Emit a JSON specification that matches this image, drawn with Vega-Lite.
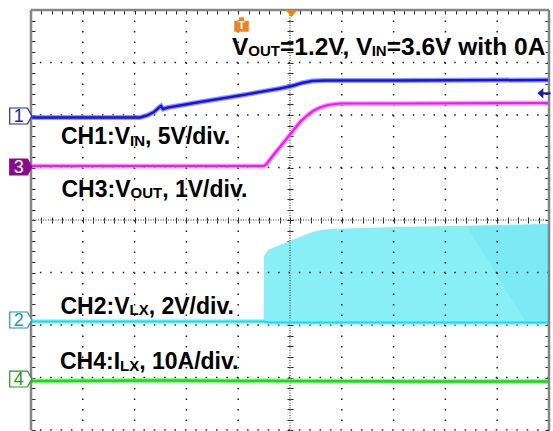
{
  "$schema": "https://vega.github.io/schema/vega-lite/v6.json",
  "width": 518,
  "height": 420,
  "autosize": {"type": "none"},
  "padding": {"left": 31, "top": 10, "right": 4, "bottom": 1},
  "background": "#ffffff",
  "config": {"view": {"stroke": null}, "axis": {"domain": false, "labels": false, "grid": false, "tickColor": "#2a2a2a", "tickWidth": 1, "zindex": 1}},
  "resolve": {"axis": {"x": "independent", "y": "independent"}},
  "datasets": {
    "vgrid": [{"x": 1}, {"x": 2}, {"x": 3}, {"x": 4}, {"x": 6}, {"x": 7}, {"x": 8}, {"x": 9}],
    "hgrid": [{"y": 0}, {"y": 1}, {"y": 2}, {"y": 3}, {"y": 5}, {"y": 6}, {"y": 7}],
    "vcenter": [{"x": 5}],
    "hcenter": [{"y": 4}],
    "vborder": [{"x": 0}, {"x": 10}],
    "hborder": [{"y": 8}],
    "ch1": [
      {"x": 0, "y": 5.952}, {"x": 2.104, "y": 5.952}, {"x": 2.239, "y": 5.99}, {"x": 2.375, "y": 6.057},
      {"x": 2.471, "y": 6.143}, {"x": 2.51, "y": 6.171}, {"x": 2.548, "y": 6.114}, {"x": 2.645, "y": 6.143},
      {"x": 3.263, "y": 6.248}, {"x": 4.035, "y": 6.371}, {"x": 4.807, "y": 6.505}, {"x": 5.039, "y": 6.552},
      {"x": 5.232, "y": 6.61}, {"x": 5.425, "y": 6.648}, {"x": 5.676, "y": 6.657}, {"x": 7.124, "y": 6.657},
      {"x": 10, "y": 6.667}
    ],
    "ch3": [
      {"x": 0, "y": 5.029}, {"x": 4.498, "y": 5.029}, {"x": 4.556, "y": 5.076}, {"x": 4.614, "y": 5.152},
      {"x": 4.71, "y": 5.276}, {"x": 4.807, "y": 5.39}, {"x": 4.923, "y": 5.533}, {"x": 5.039, "y": 5.676},
      {"x": 5.193, "y": 5.867}, {"x": 5.328, "y": 5.99}, {"x": 5.444, "y": 6.076}, {"x": 5.579, "y": 6.143},
      {"x": 5.734, "y": 6.19}, {"x": 5.965, "y": 6.219}, {"x": 7.124, "y": 6.219}, {"x": 10, "y": 6.229}
    ],
    "ch2": [{"x": 0, "y": 2.067}, {"x": 4.49, "y": 2.067}, {"x": 4.6, "y": 2.048}, {"x": 10, "y": 2.048}],
    "ch2burst": [
      {"x": 4.49, "top": 2.067, "bot": 2.029}, {"x": 4.498, "top": 3.314, "bot": 2.029}, {"x": 4.575, "top": 3.429, "bot": 2.029},
      {"x": 4.71, "top": 3.486, "bot": 2.029}, {"x": 4.903, "top": 3.562, "bot": 2.029}, {"x": 5.039, "top": 3.619, "bot": 2.029},
      {"x": 5.193, "top": 3.676, "bot": 2.029}, {"x": 5.386, "top": 3.752, "bot": 2.029}, {"x": 5.541, "top": 3.8, "bot": 2.029},
      {"x": 5.772, "top": 3.829, "bot": 2.029}, {"x": 6.351, "top": 3.848, "bot": 2.029}, {"x": 7.124, "top": 3.867, "bot": 2.029},
      {"x": 8.089, "top": 3.886, "bot": 2.029}, {"x": 9.054, "top": 3.905, "bot": 2.029}, {"x": 10, "top": 3.924, "bot": 2.029}
    ],
    "ch2dark": [
      {"x": 8.411, "top": 3.88, "bot": 3.88}, {"x": 9.569, "top": 3.905, "bot": 2.029}, {"x": 10, "top": 3.924, "bot": 2.029}
    ],
    "ch4": [{"x": 0, "y": 0.933}, {"x": 2.5, "y": 0.943}, {"x": 5, "y": 0.933}, {"x": 7.5, "y": 0.924}, {"x": 10, "y": 0.924}],
    "markers": [
      {"ch": "1", "x": -0.198, "y": 5.981}, {"ch": "2", "x": -0.198, "y": 2.095},
      {"ch": "3", "x": -0.198, "y": 5.01}, {"ch": "4", "x": -0.198, "y": 0.971}
    ],
    "trig": [{"x": 4.064, "y": 7.724}],
    "trigtop": [{"x": 5.03, "y": 7.935}],
    "arrow": [{"x": 9.903, "y": 6.413}],
    "labels": [
      {"t": "CH1:V", "x": 0.579, "y": 5.448}, {"t": ", 5V/div.", "x": 2.201, "y": 5.448},
      {"t": "CH3:V", "x": 0.589, "y": 4.438}, {"t": ", 1V/div.", "x": 2.533, "y": 4.438},
      {"t": "CH2:V", "x": 0.569, "y": 2.219}, {"t": ", 2V/div.", "x": 2.272, "y": 2.219},
      {"t": "CH4:I", "x": 0.56, "y": 1.162}, {"t": ", 10A/div.", "x": 2.089, "y": 1.162}
    ],
    "labelSubs": [
      {"t": "IN", "x": 1.911, "y": 5.419}, {"t": "OUT", "x": 1.921, "y": 4.41},
      {"t": "LX", "x": 1.902, "y": 2.19}, {"t": "LX", "x": 1.718, "y": 1.133}
    ],
    "title": [
      {"t": "V", "x": 3.88, "y": 7.152}, {"t": "=1.2V, V", "x": 4.807, "y": 7.152}, {"t": "=3.6V with 0A", "x": 6.867, "y": 7.152}
    ],
    "titleSubs": [{"t": "OUT", "x": 4.195, "y": 7.124}, {"t": "IN", "x": 6.577, "y": 7.124}]
  },
  "layer": [
    {
      "data": {"name": "ch2burst"},
      "mark": {"type": "area", "color": "#88eff7", "opacity": 1},
      "encoding": {
        "x": {"field": "x", "type": "quantitative", "scale": {"domain": [0, 10], "nice": false, "zero": false},
          "axis": {"orient": "top", "offset": -210, "tickSize": 3, "title": null,
            "values": [0,0.2,0.4,0.6,0.8,1,1.2,1.4,1.6,1.8,2,2.2,2.4,2.6,2.8,3,3.2,3.4,3.6,3.8,4,4.2,4.4,4.6,4.8,5,5.2,5.4,5.6,5.8,6,6.2,6.4,6.6,6.8,7,7.2,7.4,7.6,7.8,8,8.2,8.4,8.6,8.8,9,9.2,9.4,9.6,9.8,10]}},
        "y": {"field": "top", "type": "quantitative", "scale": {"domain": [0, 8], "nice": false, "zero": false}, "axis": null},
        "y2": {"field": "bot"}
      }
    },
    {
      "data": {"name": "ch2dark"},
      "mark": {"type": "area", "color": "#7ceaf4", "opacity": 1},
      "encoding": {
        "x": {"field": "x", "type": "quantitative", "scale": {"domain": [0, 10], "nice": false, "zero": false}, "axis": null},
        "y": {"field": "top", "type": "quantitative", "scale": {"domain": [0, 8], "nice": false, "zero": false}, "axis": null},
        "y2": {"field": "bot"}
      }
    },
    {
      "data": {"name": "vgrid"},
      "mark": {"type": "rule", "color": "#1e1e1e", "strokeWidth": 1.5, "strokeDash": [1.5, 9]},
      "encoding": {
        "x": {"field": "x", "type": "quantitative", "scale": {"domain": [0, 10], "nice": false, "zero": false},
          "axis": {"orient": "top", "offset": 0, "tickSize": -4, "title": null,
            "values": [0,0.2,0.4,0.6,0.8,1,1.2,1.4,1.6,1.8,2,2.2,2.4,2.6,2.8,3,3.2,3.4,3.6,3.8,4,4.2,4.4,4.6,4.8,5,5.2,5.4,5.6,5.8,6,6.2,6.4,6.6,6.8,7,7.2,7.4,7.6,7.8,8,8.2,8.4,8.6,8.8,9,9.2,9.4,9.6,9.8,10]}}
      }
    },
    {
      "data": {"name": "hgrid"},
      "mark": {"type": "rule", "color": "#1e1e1e", "strokeWidth": 1.5, "strokeDash": [1.5, 8.86]},
      "encoding": {
        "y": {"field": "y", "type": "quantitative", "scale": {"domain": [0, 8], "nice": false, "zero": false},
          "axis": {"orient": "left", "offset": 0, "tickSize": -4, "title": null,
            "values": [0,0.2,0.4,0.6,0.8,1,1.2,1.4,1.6,1.8,2,2.2,2.4,2.6,2.8,3,3.2,3.4,3.6,3.8,4,4.2,4.4,4.6,4.8,5,5.2,5.4,5.6,5.8,6,6.2,6.4,6.6,6.8,7,7.2,7.4,7.6,7.8,8]}}
      }
    },
    {
      "data": {"name": "vcenter"},
      "mark": {"type": "rule", "color": "#2a2a2a", "strokeWidth": 1, "strokeDash": [1, 1.5]},
      "encoding": {
        "x": {"field": "x", "type": "quantitative", "scale": {"domain": [0, 10], "nice": false, "zero": false},
          "axis": {"orient": "bottom", "offset": -210, "tickSize": 3, "title": null,
            "values": [0,0.2,0.4,0.6,0.8,1,1.2,1.4,1.6,1.8,2,2.2,2.4,2.6,2.8,3,3.2,3.4,3.6,3.8,4,4.2,4.4,4.6,4.8,5,5.2,5.4,5.6,5.8,6,6.2,6.4,6.6,6.8,7,7.2,7.4,7.6,7.8,8,8.2,8.4,8.6,8.8,9,9.2,9.4,9.6,9.8,10]}}
      }
    },
    {
      "data": {"name": "hcenter"},
      "mark": {"type": "rule", "color": "#2a2a2a", "strokeWidth": 1, "strokeDash": [1, 1.5]},
      "encoding": {
        "y": {"field": "y", "type": "quantitative", "scale": {"domain": [0, 8], "nice": false, "zero": false},
          "axis": {"orient": "left", "offset": -259, "tickSize": 3, "title": null,
            "values": [0,0.2,0.4,0.6,0.8,1,1.2,1.4,1.6,1.8,2,2.2,2.4,2.6,2.8,3,3.2,3.4,3.6,3.8,4,4.2,4.4,4.6,4.8,5,5.2,5.4,5.6,5.8,6,6.2,6.4,6.6,6.8,7,7.2,7.4,7.6,7.8,8]}}
      }
    },
    {
      "data": {"name": "ch2"},
      "mark": {"type": "line", "color": "#7ff0f8", "strokeWidth": 4.5, "opacity": 0.8},
      "encoding": {
        "x": {"field": "x", "type": "quantitative", "scale": {"domain": [0, 10], "nice": false, "zero": false}, "axis": null},
        "y": {"field": "y", "type": "quantitative", "scale": {"domain": [0, 8], "nice": false, "zero": false}, "axis": null}
      }
    },
    {
      "data": {"name": "ch2"},
      "mark": {"type": "line", "color": "#18dcec", "strokeWidth": 2},
      "encoding": {
        "x": {"field": "x", "type": "quantitative", "scale": {"domain": [0, 10], "nice": false, "zero": false}, "axis": null},
        "y": {"field": "y", "type": "quantitative", "scale": {"domain": [0, 8], "nice": false, "zero": false}, "axis": null}
      }
    },
    {
      "data": {"name": "ch4"},
      "mark": {"type": "line", "color": "#7cf07c", "strokeWidth": 5, "opacity": 0.8},
      "encoding": {
        "x": {"field": "x", "type": "quantitative", "scale": {"domain": [0, 10], "nice": false, "zero": false}, "axis": null},
        "y": {"field": "y", "type": "quantitative", "scale": {"domain": [0, 8], "nice": false, "zero": false}, "axis": null}
      }
    },
    {
      "data": {"name": "ch4"},
      "mark": {"type": "line", "color": "#12de12", "strokeWidth": 2.5},
      "encoding": {
        "x": {"field": "x", "type": "quantitative", "scale": {"domain": [0, 10], "nice": false, "zero": false}, "axis": null},
        "y": {"field": "y", "type": "quantitative", "scale": {"domain": [0, 8], "nice": false, "zero": false}, "axis": null}
      }
    },
    {
      "data": {"name": "ch3"},
      "mark": {"type": "line", "color": "#ff80ff", "strokeWidth": 4.5, "opacity": 0.8},
      "encoding": {
        "x": {"field": "x", "type": "quantitative", "scale": {"domain": [0, 10], "nice": false, "zero": false}, "axis": null},
        "y": {"field": "y", "type": "quantitative", "scale": {"domain": [0, 8], "nice": false, "zero": false},
          "axis": {"orient": "right", "offset": 0, "tickSize": -4, "title": null,
            "values": [0,0.2,0.4,0.6,0.8,1,1.2,1.4,1.6,1.8,2,2.2,2.4,2.6,2.8,3,3.2,3.4,3.6,3.8,4,4.2,4.4,4.6,4.8,5,5.2,5.4,5.6,5.8,6,6.2,6.4,6.6,6.8,7,7.2,7.4,7.6,7.8,8]}}
      }
    },
    {
      "data": {"name": "ch3"},
      "mark": {"type": "line", "color": "#ff10ff", "strokeWidth": 2.2},
      "encoding": {
        "x": {"field": "x", "type": "quantitative", "scale": {"domain": [0, 10], "nice": false, "zero": false}, "axis": null},
        "y": {"field": "y", "type": "quantitative", "scale": {"domain": [0, 8], "nice": false, "zero": false}, "axis": null}
      }
    },
    {
      "data": {"name": "ch1"},
      "mark": {"type": "line", "color": "#7c7cff", "strokeWidth": 5, "opacity": 0.8},
      "encoding": {
        "x": {"field": "x", "type": "quantitative", "scale": {"domain": [0, 10], "nice": false, "zero": false}, "axis": null},
        "y": {"field": "y", "type": "quantitative", "scale": {"domain": [0, 8], "nice": false, "zero": false},
          "axis": {"orient": "right", "offset": -259, "tickSize": 3, "title": null,
            "values": [0,0.2,0.4,0.6,0.8,1,1.2,1.4,1.6,1.8,2,2.2,2.4,2.6,2.8,3,3.2,3.4,3.6,3.8,4,4.2,4.4,4.6,4.8,5,5.2,5.4,5.6,5.8,6,6.2,6.4,6.6,6.8,7,7.2,7.4,7.6,7.8,8]}}
      }
    },
    {
      "data": {"name": "ch1"},
      "mark": {"type": "line", "color": "#1414e6", "strokeWidth": 2.5},
      "encoding": {
        "x": {"field": "x", "type": "quantitative", "scale": {"domain": [0, 10], "nice": false, "zero": false}, "axis": null},
        "y": {"field": "y", "type": "quantitative", "scale": {"domain": [0, 8], "nice": false, "zero": false}, "axis": null}
      }
    },
    {
      "data": {"name": "vborder"},
      "mark": {"type": "rule", "color": "#858585", "strokeWidth": 2.5},
      "encoding": {
        "x": {"field": "x", "type": "quantitative", "scale": {"domain": [0, 10], "nice": false, "zero": false}, "axis": null}
      }
    },
    {
      "data": {"name": "hborder"},
      "mark": {"type": "rule", "color": "#858585", "strokeWidth": 2.5},
      "encoding": {
        "y": {"field": "y", "type": "quantitative", "scale": {"domain": [0, 8], "nice": false, "zero": false}, "axis": null}
      }
    },
    {
      "data": {"name": "markers"},
      "mark": {"type": "point", "filled": true, "shape": "M-1,-0.727L0.614,-0.727L1,0L0.614,0.727L-1,0.727Z", "size": 484, "strokeWidth": 1.2, "opacity": 1},
      "encoding": {
        "x": {"field": "x", "type": "quantitative", "scale": {"domain": [0, 10], "nice": false, "zero": false}, "axis": null},
        "y": {"field": "y", "type": "quantitative", "scale": {"domain": [0, 8], "nice": false, "zero": false}, "axis": null},
        "fill": {"field": "ch", "type": "nominal", "scale": {"domain": ["1", "2", "3", "4"], "range": ["#ffffff", "#ffffff", "#8b0a8b", "#ffffff"]}, "legend": null},
        "stroke": {"field": "ch", "type": "nominal", "scale": {"domain": ["1", "2", "3", "4"], "range": ["#2323b8", "#169ea6", "#8b0a8b", "#1d9a1d"]}, "legend": null}
      }
    },
    {
      "data": {"name": "markers"},
      "mark": {"type": "text", "align": "center", "baseline": "middle", "dx": -2, "dy": 1, "font": "Liberation Sans", "fontSize": 18},
      "encoding": {
        "x": {"field": "x", "type": "quantitative", "scale": {"domain": [0, 10], "nice": false, "zero": false}, "axis": null},
        "y": {"field": "y", "type": "quantitative", "scale": {"domain": [0, 8], "nice": false, "zero": false}, "axis": null},
        "text": {"field": "ch"},
        "color": {"field": "ch", "type": "nominal", "scale": {"domain": ["1", "2", "3", "4"], "range": ["#2323b8", "#169ea6", "#ffffff", "#1d9a1d"]}, "legend": null}
      }
    },
    {
      "data": {"name": "trig"},
      "mark": {"type": "point", "filled": true, "shape": "M-1,-0.5L-0.35,-0.5L-0.35,-1L0.35,-1L0.35,-0.5L1,-0.5L1,1L-1,1Z", "size": 210, "color": "#f0821e", "opacity": 1},
      "encoding": {
        "x": {"field": "x", "type": "quantitative", "scale": {"domain": [0, 10], "nice": false, "zero": false}, "axis": null},
        "y": {"field": "y", "type": "quantitative", "scale": {"domain": [0, 8], "nice": false, "zero": false}, "axis": null}
      }
    },
    {
      "data": {"name": "trig"},
      "mark": {"type": "text", "text": "T", "align": "center", "baseline": "middle", "dy": 2, "font": "Liberation Sans", "fontWeight": "bold", "fontSize": 11, "color": "#ffffff"},
      "encoding": {
        "x": {"field": "x", "type": "quantitative", "scale": {"domain": [0, 10], "nice": false, "zero": false}, "axis": null},
        "y": {"field": "y", "type": "quantitative", "scale": {"domain": [0, 8], "nice": false, "zero": false}, "axis": null}
      }
    },
    {
      "data": {"name": "trigtop"},
      "mark": {"type": "point", "filled": true, "shape": "M-1,-0.58L1,-0.58L0,0.58Z", "size": 144, "color": "#f0821e", "opacity": 1},
      "encoding": {
        "x": {"field": "x", "type": "quantitative", "scale": {"domain": [0, 10], "nice": false, "zero": false}, "axis": null},
        "y": {"field": "y", "type": "quantitative", "scale": {"domain": [0, 8], "nice": false, "zero": false}, "axis": null}
      }
    },
    {
      "data": {"name": "arrow"},
      "mark": {"type": "point", "filled": true, "shape": "M-1,0L-0.1,-0.8L-0.1,-0.18L1,-0.18L1,0.18L-0.1,0.18L-0.1,0.8Z", "size": 169, "color": "#1a1aa8", "opacity": 1},
      "encoding": {
        "x": {"field": "x", "type": "quantitative", "scale": {"domain": [0, 10], "nice": false, "zero": false}, "axis": null},
        "y": {"field": "y", "type": "quantitative", "scale": {"domain": [0, 8], "nice": false, "zero": false}, "axis": null}
      }
    },
    {
      "data": {"name": "labels"},
      "mark": {"type": "text", "align": "left", "baseline": "alphabetic", "font": "Liberation Sans", "fontWeight": "bold", "fontSize": 23, "color": "#000000"},
      "encoding": {
        "x": {"field": "x", "type": "quantitative", "scale": {"domain": [0, 10], "nice": false, "zero": false}, "axis": null},
        "y": {"field": "y", "type": "quantitative", "scale": {"domain": [0, 8], "nice": false, "zero": false}, "axis": null},
        "text": {"field": "t"}
      }
    },
    {
      "data": {"name": "labelSubs"},
      "mark": {"type": "text", "align": "left", "baseline": "alphabetic", "font": "Liberation Sans", "fontWeight": "bold", "fontSize": 15, "color": "#000000"},
      "encoding": {
        "x": {"field": "x", "type": "quantitative", "scale": {"domain": [0, 10], "nice": false, "zero": false}, "axis": null},
        "y": {"field": "y", "type": "quantitative", "scale": {"domain": [0, 8], "nice": false, "zero": false}, "axis": null},
        "text": {"field": "t"}
      }
    },
    {
      "data": {"name": "title"},
      "mark": {"type": "text", "align": "left", "baseline": "alphabetic", "font": "Liberation Sans", "fontWeight": "bold", "fontSize": 24.5, "color": "#000000"},
      "encoding": {
        "x": {"field": "x", "type": "quantitative", "scale": {"domain": [0, 10], "nice": false, "zero": false}, "axis": null},
        "y": {"field": "y", "type": "quantitative", "scale": {"domain": [0, 8], "nice": false, "zero": false}, "axis": null},
        "text": {"field": "t"}
      }
    },
    {
      "data": {"name": "titleSubs"},
      "mark": {"type": "text", "align": "left", "baseline": "alphabetic", "font": "Liberation Sans", "fontWeight": "bold", "fontSize": 15, "color": "#000000"},
      "encoding": {
        "x": {"field": "x", "type": "quantitative", "scale": {"domain": [0, 10], "nice": false, "zero": false}, "axis": null},
        "y": {"field": "y", "type": "quantitative", "scale": {"domain": [0, 8], "nice": false, "zero": false}, "axis": null},
        "text": {"field": "t"}
      }
    }
  ]
}
